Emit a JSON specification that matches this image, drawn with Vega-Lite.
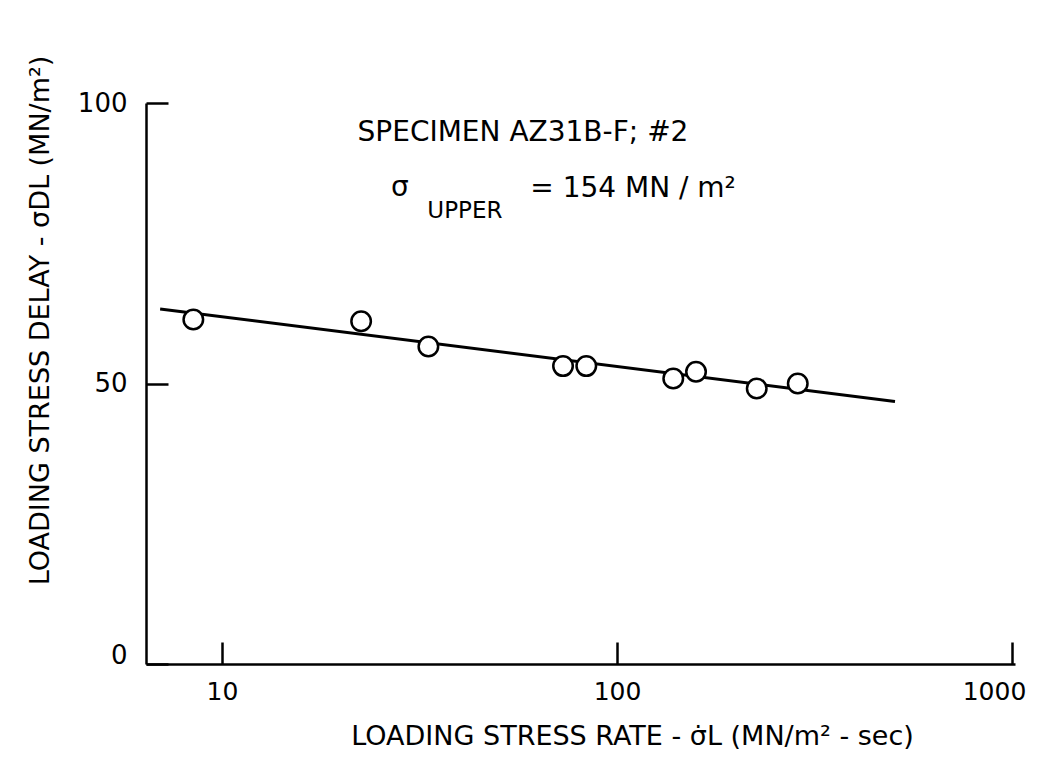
{
  "$schema": "https://vega.github.io/schema/vega-lite/v6.json",
  "width": 869,
  "height": 561,
  "autosize": "none",
  "padding": {"left": 146, "top": 103, "right": 24, "bottom": 94},
  "background": "white",
  "config": {
    "view": {"stroke": null},
    "font": "DejaVu Sans",
    "axis": {"grid": false, "domainColor": "black", "domainWidth": 2.5, "tickColor": "black", "tickWidth": 2.5, "labelColor": "black", "titleColor": "black", "labelFont": "DejaVu Sans", "titleFont": "DejaVu Sans", "titleFontWeight": "normal"}
  },
  "datasets": {
    "points": [
      {"rate": 8.46, "delay": 61.4},
      {"rate": 22.5, "delay": 61.1},
      {"rate": 33.3, "delay": 56.6},
      {"rate": 73.0, "delay": 53.1},
      {"rate": 83.6, "delay": 53.1},
      {"rate": 138.8, "delay": 50.9},
      {"rate": 158.5, "delay": 52.1},
      {"rate": 225.8, "delay": 49.1},
      {"rate": 286.8, "delay": 50.0}
    ],
    "fit": [
      {"rate": 6.97, "delay": 63.3},
      {"rate": 505.5, "delay": 46.8}
    ],
    "notes": [
      {"rate": 57.8, "delay": 94.65, "label": "SPECIMEN AZ31B-F; #2", "kind": "main"},
      {"rate": 28.2, "delay": 84.9, "label": "σ", "kind": "main"},
      {"rate": 109.8, "delay": 84.7, "label": "= 154 MN / m²", "kind": "main"},
      {"rate": 41.2, "delay": 80.7, "label": "UPPER", "kind": "sub"}
    ]
  },
  "layer": [
    {
      "data": {"name": "fit"},
      "mark": {"type": "line", "color": "black", "strokeWidth": 3},
      "encoding": {
        "x": {"field": "rate", "type": "quantitative", "scale": {"type": "log", "domain": [6.42, 1017.6], "nice": false},
          "axis": {"values": [10, 100, 1000], "format": "d", "tickSize": -22, "labelFontSize": 25, "labelPadding": 37,
            "labelOffset": {"condition": {"test": "datum.value >= 1000", "value": -18}, "value": 0},
            "title": "LOADING STRESS RATE - σ̇L (MN/m² - sec)", "titleFontSize": 27, "titleX": 486, "titleY": 72, "titleAlign": "center", "titleBaseline": "middle"}},
        "y": {"field": "delay", "type": "quantitative", "scale": {"domain": [0, 100], "nice": false},
          "axis": {"values": [0, 50, 100], "tickSize": -22, "labelFontSize": 26, "labelPadding": 41,
            "labelOffset": {"condition": {"test": "datum.value == 0", "value": -9}, "value": 0},
            "title": "LOADING STRESS DELAY - σDL (MN/m²)", "titleFontSize": 27, "titleX": -106, "titleY": 217, "titleAngle": -90, "titleAlign": "center", "titleBaseline": "middle"}}
      }
    },
    {
      "data": {"name": "points"},
      "mark": {"type": "point", "shape": "circle", "filled": false, "fill": "white", "fillOpacity": 1, "stroke": "black", "strokeWidth": 2.5, "size": 380, "opacity": 1},
      "encoding": {
        "x": {"field": "rate", "type": "quantitative"},
        "y": {"field": "delay", "type": "quantitative"}
      }
    },
    {
      "data": {"name": "notes"},
      "transform": [{"filter": "datum.kind == 'main'"}],
      "mark": {"type": "text", "fontSize": 28, "color": "black", "align": "center", "baseline": "middle"},
      "encoding": {
        "x": {"field": "rate", "type": "quantitative"},
        "y": {"field": "delay", "type": "quantitative"},
        "text": {"field": "label"}
      }
    },
    {
      "data": {"name": "notes"},
      "transform": [{"filter": "datum.kind == 'sub'"}],
      "mark": {"type": "text", "fontSize": 23, "color": "black", "align": "center", "baseline": "middle"},
      "encoding": {
        "x": {"field": "rate", "type": "quantitative"},
        "y": {"field": "delay", "type": "quantitative"},
        "text": {"field": "label"}
      }
    }
  ]
}
